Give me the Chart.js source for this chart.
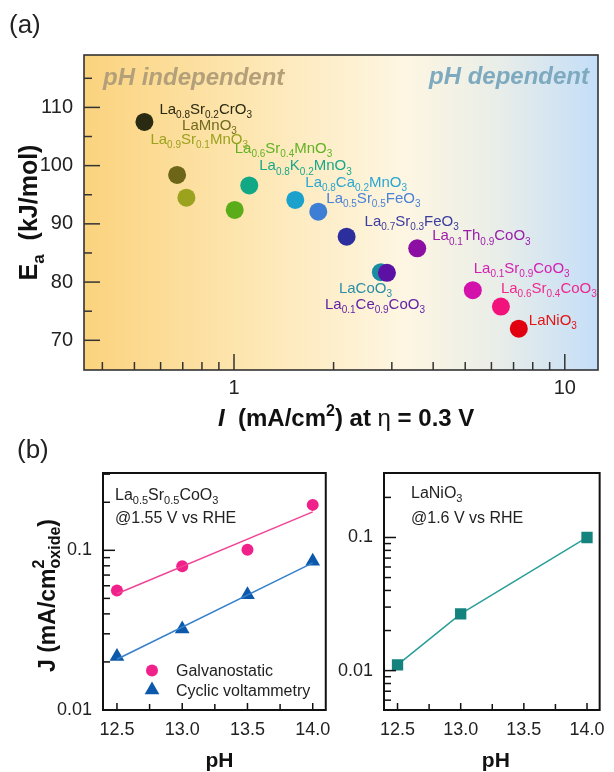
<!DOCTYPE html>
<html>
<head>
<meta charset="utf-8">
<script src="https://cdn.jsdelivr.net/npm/chart.js@4.4.1/dist/chart.umd.min.js"></script>
<style>
  html, body { margin: 0; padding: 0; background: #fff; }
  #wrap { position: relative; width: 614px; height: 772px; overflow: hidden; }
  #wrap canvas { position: absolute; }
</style>
</head>
<body>
<div id="wrap">
  <canvas id="chartA" width="614" height="445" style="left:0;top:0;width:614px;height:445px"></canvas>
  <canvas id="chartB1" width="340" height="347" style="left:0;top:425px;width:340px;height:347px"></canvas>
  <canvas id="chartB2" width="294" height="347" style="left:320px;top:425px;width:294px;height:347px"></canvas>
</div>
<script>
// ---------- panel (a): activation energy vs. current density ----------
const oxides = [
  'La_{0.8}Sr_{0.2}CrO_{3}', 'LaMnO_{3}', 'La_{0.9}Sr_{0.1}MnO_{3}', 'La_{0.6}Sr_{0.4}MnO_{3}',
  'La_{0.8}K_{0.2}MnO_{3}', 'La_{0.8}Ca_{0.2}MnO_{3}', 'La_{0.5}Sr_{0.5}FeO_{3}', 'La_{0.7}Sr_{0.3}FeO_{3}',
  'La_{0.1}Th_{0.9}CoO_{3}', 'LaCoO_{3}', 'La_{0.1}Ce_{0.9}CoO_{3}', 'La_{0.1}Sr_{0.9}CoO_{3}',
  'La_{0.6}Sr_{0.4}CoO_{3}', 'LaNiO_{3}'
];
const currentDensity = [0.536, 0.673, 0.718, 1.005, 1.112, 1.532, 1.798, 2.19, 3.58, 2.78, 2.90, 5.27, 6.41, 7.26];
const activationEnergy = [107.5, 98.4, 94.5, 92.4, 96.6, 94.1, 92.1, 87.8, 85.8, 81.7, 81.6, 78.6, 75.8, 72.0];
const energyTicks = [70, 80, 90, 100, 110];
const energyMinorTicks = [75, 85, 95, 105, 115];
const currentTicks = [1, 10];
const currentMinorTicks = [0.4, 0.5, 0.6, 0.7, 0.8, 0.9, 2, 3, 4, 5, 6, 7, 8, 9];

// ---------- panel (b): current density vs. pH ----------
const pHValues = [12.5, 13.0, 13.5, 14.0];
const jGalvanostatic = [0.0561, 0.0794, 0.101, 0.1926];
const jCyclicVoltammetry = [0.0216, 0.0322, 0.0527, 0.0853];
const fitPH = [12.5, 14.0];
const fitGalvanostatic = [0.0535, 0.174];
const fitCyclicVoltammetry = [0.0208, 0.0835];
const pHLaNiO3 = [12.5, 13.0, 14.0];
const jLaNiO3 = [0.01104, 0.0267, 0.1];
const pHTicks = [12.5, 13.0, 13.5, 14.0];
const pHMinorTicks = [12.75, 13.25, 13.75];
const jTicks = [0.01, 0.1];
const jMinorTicksLeft = [0.02, 0.03, 0.04, 0.05, 0.06, 0.07, 0.08, 0.09, 0.2, 0.3];
const jMinorTicksRight = [0.006, 0.007, 0.008, 0.009, 0.02, 0.03, 0.04, 0.05, 0.06, 0.07, 0.08, 0.09, 0.2, 0.3];
const seriesNames = ['Galvanostatic', 'Cyclic voltammetry'];

// ---------- styling ----------
const FONT = "'Liberation Sans', Arial, Helvetica, sans-serif";
const pointColors = ['#2a2912', '#6d6618', '#9aa21e', '#5aac18', '#12a886', '#1aa2cc', '#3e7fd6', '#2b2e9c',
  '#8c0ea2', '#1b8ca2', '#5c10a4', '#d212aa', '#f2127c', '#e00010'];
const labelColors = ['#2a2912', '#716a1c', '#9aa21e', '#62b225', '#1aa88c', '#2aa6d0', '#4a82d8', '#3a3c9e',
  '#9a1eaa', '#2a8ea6', '#6222a6', '#d420b0', '#f0288c', '#e21414'];
// label anchor (left, baseline) relative to each marker, in pixels
const labelOffsets = [[15, -8], [5, -45], [-36, -54], [0, -57], [10, -15], [10, -13], [8, -9], [18, -11],
  [15, -8], [-42, 21], [-62, 36], [1, -17], [0, -14], [10, -4]];

function parseRich(str) {
  const segs = [];
  const re = /_\{([^}]*)\}|\^\{([^}]*)\}|([^_^]+)/g;
  let m;
  while ((m = re.exec(str))) {
    if (m[1] !== undefined) segs.push({ t: m[1], k: 'sub' });
    else if (m[2] !== undefined) segs.push({ t: m[2], k: 'sup' });
    else segs.push({ t: m[3], k: 'n' });
  }
  return segs;
}
function segFont(s, size, style) {
  const fs = s.k === 'n' ? size : Math.round(size * 0.67);
  return `${s.style || style} ${fs}px ${FONT}`;
}
function richWidth(ctx, segs, size, style) {
  let w = 0;
  for (const s of segs) { ctx.font = segFont(s, size, style); w += ctx.measureText(s.t).width; }
  return w;
}
function drawRich(ctx, segs, x, y, size, style, color) {
  ctx.fillStyle = color;
  ctx.textBaseline = 'alphabetic';
  ctx.textAlign = 'left';
  let cx = x;
  for (const s of segs) {
    ctx.font = segFont(s, size, style);
    const dy = s.k === 'sub' ? size * 0.28 : s.k === 'sup' ? -size * 0.42 : 0;
    ctx.fillText(s.t, cx, y + dy);
    cx += ctx.measureText(s.t).width;
  }
  return cx - x;
}

// background, frame and inward tick marks
const axisDecor = {
  id: 'axisDecor',
  beforeDraw(chart, args, o) {
    const { ctx, chartArea: a } = chart;
    if (!o.gradient) return;
    const g = ctx.createLinearGradient(a.left, 0, a.right, 0);
    o.gradient.forEach(([p, c]) => g.addColorStop(p, c));
    ctx.save();
    ctx.fillStyle = g;
    ctx.fillRect(a.left, a.top, a.right - a.left, a.bottom - a.top);
    ctx.restore();
  },
  afterDraw(chart, args, o) {
    const { ctx, chartArea: a, scales } = chart;
    ctx.save();
    ctx.strokeStyle = o.color;
    ctx.lineWidth = o.tickWidth;
    const drawX = (vals, len) => vals.forEach(v => {
      const p = scales.x.getPixelForValue(v);
      if (p < a.left + 1 || p > a.right - 1) return;
      ctx.beginPath(); ctx.moveTo(p, a.bottom); ctx.lineTo(p, a.bottom - len); ctx.stroke();
    });
    const drawY = (vals, len) => vals.forEach(v => {
      const p = scales.y.getPixelForValue(v);
      if (p < a.top + 1 || p > a.bottom - 1) return;
      ctx.beginPath(); ctx.moveTo(a.left, p); ctx.lineTo(a.left + len, p); ctx.stroke();
    });
    drawX(o.xMajor, o.xMajorLen); drawX(o.xMinor, o.xMinorLen);
    drawY(o.yMajor, o.yMajorLen); drawY(o.yMinor, o.yMinorLen);
    ctx.lineWidth = o.frameWidth;
    ctx.strokeRect(a.left, a.top, a.right - a.left, a.bottom - a.top);
    ctx.restore();
  }
};

const baseOptions = (extra) => Object.assign({
  responsive: false,
  animation: false,
  events: [],
}, extra);

// ---------- chart (a) ----------
const annotateA = {
  id: 'annotateA',
  afterDatasetsDraw(chart) {
    const { ctx, chartArea: a } = chart;
    const meta = chart.getDatasetMeta(0);
    ctx.save();
    meta.data.forEach((pt, i) => {
      drawRich(ctx, parseRich(oxides[i]), pt.x + labelOffsets[i][0], pt.y + labelOffsets[i][1], 15, 'normal', labelColors[i]);
    });
    ctx.font = `italic bold 24px ${FONT}`;
    ctx.textBaseline = 'alphabetic';
    ctx.textAlign = 'left';
    ctx.fillStyle = '#b3a07a';
    ctx.fillText('pH independent', a.left + 19, a.top + 30);
    ctx.textAlign = 'right';
    ctx.fillStyle = '#7eaabf';
    ctx.fillText('pH dependent', a.right - 9, a.top + 29);
    ctx.restore();
  },
  afterDraw(chart) {
    const { ctx, chartArea: a } = chart;
    ctx.save();
    // panel letter
    ctx.font = `26px ${FONT}`;
    ctx.fillStyle = '#222';
    ctx.textAlign = 'left';
    ctx.textBaseline = 'alphabetic';
    ctx.fillText('(a)', 9, 33);
    // x title
    const xs = [
      { t: 'I', k: 'n', style: 'italic bold' },
      { t: '  (mA/cm', k: 'n' }, { t: '2', k: 'sup' }, { t: ') at ', k: 'n' },
      { t: 'η', k: 'n', style: 'normal' }, { t: ' = 0.3 V', k: 'n' }
    ];
    drawRich(ctx, xs, 218, 426, 24, 'bold', '#111');
    // y title
    const ys = [{ t: 'E', k: 'n' }, { t: 'a', k: 'sub' }, { t: '  (kJ/mol)', k: 'n' }];
    const wy = richWidth(ctx, ys, 25, 'bold');
    ctx.translate(37, (a.top + a.bottom) / 2);
    ctx.rotate(-Math.PI / 2);
    drawRich(ctx, ys, -wy / 2, 0, 25, 'bold', '#111');
    ctx.restore();
  }
};

new Chart(document.getElementById('chartA'), {
  type: 'scatter',
  data: {
    datasets: [{
      data: currentDensity.map((x, i) => ({ x, y: activationEnergy[i] })),
      pointRadius: 9,
      pointBackgroundColor: pointColors,
      pointBorderWidth: 0,
      borderWidth: 0
    }]
  },
  options: baseOptions({
    layout: { padding: { left: 0, right: 16, top: 55, bottom: 0 } },
    plugins: {
      legend: { display: false },
      tooltip: { enabled: false },
      axisDecor: {
        gradient: [[0, '#fbd37e'], [0.3, '#fde5ae'], [0.62, '#fef6e2'], [0.8, '#eaeee8'], [1, '#c4def8']],
        color: '#333', tickWidth: 1.5, frameWidth: 1.6,
        xMajor: currentTicks, xMinor: currentMinorTicks, xMajorLen: 16, xMinorLen: 8,
        yMajor: energyTicks, yMinor: energyMinorTicks, yMajorLen: 16, yMinorLen: 8
      }
    },
    scales: {
      x: {
        type: 'logarithmic', min: 0.352, max: 12.6,
        grid: { display: false, drawTicks: false }, border: { display: false },
        afterBuildTicks: s => { s.ticks = currentTicks.map(v => ({ value: v })); },
        afterFit: s => { s.height = 75; },
        ticks: { font: { family: FONT, size: 20 }, color: '#222', padding: 6, maxRotation: 0, autoSkip: false,
          callback: v => String(v) }
      },
      y: {
        min: 64.9, max: 119,
        grid: { display: false, drawTicks: false }, border: { display: false },
        afterBuildTicks: s => { s.ticks = energyTicks.map(v => ({ value: v })); },
        afterFit: s => { s.width = 84; },
        ticks: { font: { family: FONT, size: 20 }, color: '#222', padding: 11, callback: v => String(v) }
      }
    }
  }),
  plugins: [axisDecor, annotateA]
});

// ---------- charts (b) ----------
const pHAxis = () => ({
  type: 'linear', min: 12.393, max: 14.1,
  grid: { display: false, drawTicks: false }, border: { display: false },
  afterBuildTicks: s => { s.ticks = pHTicks.map(v => ({ value: v })); },
  afterFit: s => { s.height = 62; },
  ticks: { font: { family: FONT, size: 18 }, color: '#222', padding: 9, maxRotation: 0, autoSkip: false,
    callback: v => v.toFixed(1) }
});
const jAxis = (min, width) => ({
  type: 'logarithmic', min, max: 0.305,
  grid: { display: false, drawTicks: false }, border: { display: false },
  afterBuildTicks: s => { s.ticks = jTicks.map(v => ({ value: v })); },
  afterFit: s => { s.width = width; },
  ticks: { font: { family: FONT, size: 18 }, color: '#222', padding: 11, callback: v => String(v) }
});

function drawTriangle(ctx, x, y, r) {
  ctx.beginPath();
  ctx.moveTo(x, y - r);
  ctx.lineTo(x + r * Math.sin(2 * Math.PI / 3), y - r * Math.cos(2 * Math.PI / 3));
  ctx.lineTo(x + r * Math.sin(4 * Math.PI / 3), y - r * Math.cos(4 * Math.PI / 3));
  ctx.closePath();
  ctx.fill();
}

const PINK = '#f0218a', PINK_LINE = '#f04496', BLUE = '#0c58aa', BLUE_LINE = '#3480cc';
const TEAL = '#14837e', TEAL_LINE = '#2a9e98';

const annotateB1 = {
  id: 'annotateB1',
  afterDraw(chart) {
    const { ctx, chartArea: a } = chart;
    ctx.save();
    ctx.font = `26px ${FONT}`;
    ctx.fillStyle = '#222';
    ctx.textBaseline = 'alphabetic';
    ctx.textAlign = 'left';
    ctx.fillText('(b)', 17, 33);
    drawRich(ctx, parseRich('La_{0.5}Sr_{0.5}CoO_{3}'), a.left + 12, a.top + 27, 16, 'normal', '#222');
    drawRich(ctx, parseRich('@1.55 V vs RHE'), a.left + 12, a.top + 50, 16, 'normal', '#222');
    // legend
    ctx.fillStyle = PINK;
    ctx.beginPath(); ctx.arc(a.left + 49, a.bottom - 39.5, 6, 0, Math.PI * 2); ctx.fill();
    ctx.fillStyle = BLUE;
    drawTriangle(ctx, a.left + 49, a.bottom - 20, 8.5);
    ctx.font = `16px ${FONT}`;
    ctx.fillStyle = '#222';
    ctx.fillText(seriesNames[0], a.left + 73, a.bottom - 34);
    ctx.fillText(seriesNames[1], a.left + 73, a.bottom - 14.5);
    // x title
    ctx.font = `bold 21px ${FONT}`;
    ctx.textAlign = 'center';
    ctx.fillStyle = '#111';
    ctx.fillText('pH', (a.left + a.right) / 2 + 5, a.bottom + 57);
    // y title with stacked super/subscript
    const main = 'J (mA/cm';
    ctx.font = `bold 23px ${FONT}`;
    const w1 = ctx.measureText(main).width;
    ctx.font = `bold 16px ${FONT}`;
    const wSub = Math.max(ctx.measureText('oxide').width, ctx.measureText('2').width);
    ctx.font = `bold 23px ${FONT}`;
    const w2 = ctx.measureText(')').width;
    const total = w1 + wSub + w2;
    ctx.translate(55, (a.top + a.bottom) / 2 + 4);
    ctx.rotate(-Math.PI / 2);
    ctx.textAlign = 'left';
    const x0 = -total / 2;
    ctx.fillText(main, x0, 0);
    ctx.font = `bold 16px ${FONT}`;
    ctx.fillText('2', x0 + w1, -11);
    ctx.fillText('oxide', x0 + w1, 5);
    ctx.font = `bold 23px ${FONT}`;
    ctx.fillText(')', x0 + w1 + wSub, 0);
    ctx.restore();
  }
};

new Chart(document.getElementById('chartB1'), {
  type: 'scatter',
  data: {
    datasets: [
      { data: fitPH.map((x, i) => ({ x, y: fitGalvanostatic[i] })), showLine: true, pointRadius: 0,
        borderColor: PINK_LINE, borderWidth: 1.5 },
      { data: fitPH.map((x, i) => ({ x, y: fitCyclicVoltammetry[i] })), showLine: true, pointRadius: 0,
        borderColor: BLUE_LINE, borderWidth: 1.5 },
      { label: seriesNames[0], data: pHValues.map((x, i) => ({ x, y: jGalvanostatic[i] })),
        pointRadius: 6, pointBackgroundColor: PINK, pointBorderWidth: 0, borderWidth: 0 },
      { label: seriesNames[1], data: pHValues.map((x, i) => ({ x, y: jCyclicVoltammetry[i] })),
        pointStyle: 'triangle', pointRadius: 8.5, pointBackgroundColor: BLUE, pointBorderWidth: 0, borderWidth: 0 }
    ]
  },
  options: baseOptions({
    layout: { padding: { left: 0, right: 13, top: 48, bottom: 0 } },
    plugins: {
      legend: { display: false }, tooltip: { enabled: false },
      axisDecor: {
        color: '#111', tickWidth: 1.5, frameWidth: 2,
        xMajor: pHTicks, xMinor: pHMinorTicks, xMajorLen: 7, xMinorLen: 6,
        yMajor: jTicks, yMinor: jMinorTicksLeft, yMajorLen: 12, yMinorLen: 7
      }
    },
    scales: { x: pHAxis(), y: jAxis(0.01, 103) }
  }),
  plugins: [axisDecor, annotateB1]
});

const annotateB2 = {
  id: 'annotateB2',
  afterDraw(chart) {
    const { ctx, chartArea: a } = chart;
    ctx.save();
    drawRich(ctx, parseRich('LaNiO_{3}'), a.left + 27, a.top + 25, 16, 'normal', '#222');
    drawRich(ctx, parseRich('@1.6 V vs RHE'), a.left + 27, a.top + 50, 16, 'normal', '#222');
    ctx.font = `bold 21px ${FONT}`;
    ctx.textAlign = 'center';
    ctx.fillStyle = '#111';
    ctx.fillText('pH', (a.left + a.right) / 2 + 4, a.bottom + 57);
    ctx.restore();
  }
};

new Chart(document.getElementById('chartB2'), {
  type: 'scatter',
  data: {
    datasets: [{
      data: pHLaNiO3.map((x, i) => ({ x, y: jLaNiO3[i] })), showLine: true,
      borderColor: TEAL_LINE, borderWidth: 1.5,
      pointStyle: 'rect', pointRadius: 8, pointBackgroundColor: TEAL, pointBorderWidth: 0
    }]
  },
  options: baseOptions({
    layout: { padding: { left: 0, right: 6, top: 48, bottom: 0 } },
    plugins: {
      legend: { display: false }, tooltip: { enabled: false },
      axisDecor: {
        color: '#111', tickWidth: 1.5, frameWidth: 2,
        xMajor: pHTicks, xMinor: pHMinorTicks, xMajorLen: 7, xMinorLen: 6,
        yMajor: jTicks, yMinor: jMinorTicksRight, yMajorLen: 12, yMinorLen: 7
      }
    },
    scales: { x: pHAxis(), y: jAxis(0.00506, 64) }
  }),
  plugins: [axisDecor, annotateB2]
});
</script>
</body>
</html>
